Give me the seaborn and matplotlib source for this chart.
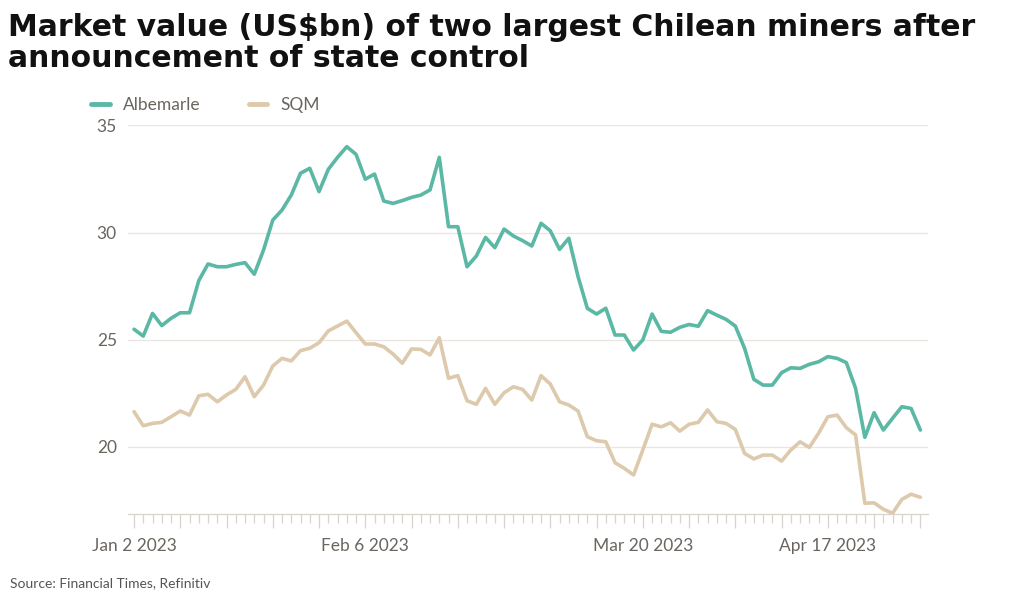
import numpy as np
import pandas as pd
import matplotlib
matplotlib.use("Agg")
import matplotlib.pyplot as plt
import seaborn as sns

# --- data: market value in US$bn, one value per trading day (Jan 2 - May 1 2023) ---
albemarle = [25.48, 25.16, 26.22, 25.65, 25.99, 26.25, 26.25, 27.75, 28.53, 28.40,
             28.40, 28.51, 28.59, 28.05, 29.18, 30.58, 31.05, 31.75, 32.77, 33.00,
             31.91, 32.95, 33.51, 34.01, 33.65, 32.49, 32.73, 31.47, 31.36, 31.49,
             31.64, 31.75, 31.99, 33.51, 30.27, 30.27, 28.40, 28.90, 29.77, 29.29,
             30.16, 29.84, 29.62, 29.37, 30.43, 30.08, 29.21, 29.73, 27.94, 26.46,
             26.19, 26.46, 25.21, 25.21, 24.51, 24.98, 26.19, 25.38, 25.34, 25.57,
             25.70, 25.62, 26.35, 26.14, 25.94, 25.63, 24.59, 23.14, 22.87, 22.87,
             23.45, 23.68, 23.65, 23.84, 23.96, 24.20, 24.12, 23.92, 22.72, 20.43,
             21.58, 20.77, 21.32, 21.86, 21.78, 20.77]
sqm = [21.63, 20.97, 21.08, 21.13, 21.39, 21.66, 21.47, 22.37, 22.44, 22.09,
       22.41, 22.67, 23.26, 22.33, 22.87, 23.76, 24.12, 24.00, 24.48, 24.59,
       24.85, 25.40, 25.63, 25.86, 25.32, 24.79, 24.79, 24.66, 24.32, 23.89,
       24.56, 24.54, 24.28, 25.08, 23.19, 23.31, 22.14, 21.97, 22.72, 21.97,
       22.51, 22.79, 22.67, 22.17, 23.31, 22.92, 22.09, 21.94, 21.66, 20.46,
       20.27, 20.22, 19.24, 18.98, 18.67, 19.84, 21.04, 20.92, 21.11, 20.72,
       21.04, 21.13, 21.71, 21.16, 21.08, 20.80, 19.68, 19.42, 19.60, 19.60,
       19.32, 19.84, 20.22, 19.96, 20.62, 21.39, 21.47, 20.88, 20.54, 17.35,
       17.37, 17.07, 16.88, 17.53, 17.77, 17.63]
dates = pd.bdate_range("2023-01-02", periods=len(albemarle))
label_dates = ["2023-01-02", "2023-02-06", "2023-03-20", "2023-04-17"]
y_ticks = [20, 25, 30, 35]

companies = ["Albemarle", "SQM"]
colors = {"Albemarle": "#5ab8a5", "SQM": "#ddc9ac"}

df = pd.DataFrame({
    "pos": np.tile(np.arange(len(dates)), 2),
    "date": np.tile(dates, 2),
    "company": np.repeat(companies, len(dates)),
    "value": albemarle + sqm,
})

# --- plotting ---
sns.set_style("white")
plt.rcParams["font.family"] = ["Lato", "DejaVu Sans"]

fig = plt.figure(figsize=(10.24, 5.99), dpi=100)
ax = fig.add_axes([0.125, 0.142, 0.781, 0.6485])

sns.lineplot(data=df, x="pos", y="value", hue="company", palette=colors,
             linewidth=2.6, ax=ax)

ax.set_xlim(-0.65, 85.8)
ax.set_ylim(16.85, 35)
ax.set_yticks(y_ticks)
ax.set_yticklabels([str(t) for t in y_ticks])
ax.grid(axis="y", color="#e9e5df", linewidth=0.9)
ax.set_axisbelow(True)

# weekly long ticks, daily short ticks, labels on four dates
major = list(range(0, len(dates), 5))
lab_pos = {int(np.where(dates == pd.Timestamp(d))[0][0]): d for d in label_dates}
ax.set_xticks(major)
ax.set_xticklabels([pd.Timestamp(lab_pos[p]).strftime("%b %-d %Y") if p in lab_pos else ""
                    for p in major])
ax.set_xticks(range(len(dates)), minor=True)
ax.tick_params(axis="x", which="both", bottom=True)
ax.tick_params(axis="x", which="major", length=10, width=0.9, color="#d9d4cc",
               pad=7, labelsize=12.5, labelcolor="#6b6560", direction="out")
ax.tick_params(axis="x", which="minor", length=6.5, width=0.9, color="#d9d4cc",
               direction="out")
ax.tick_params(axis="y", length=0, pad=8, labelsize=12.5, labelcolor="#6b6560")
ax.set_xlabel("")
ax.set_ylabel("")

for s in ["top", "right", "left"]:
    ax.spines[s].set_visible(False)
ax.spines["bottom"].set_color("#d9d4cc")
ax.spines["bottom"].set_linewidth(0.9)

sns.move_legend(ax, loc="center left", bbox_to_anchor=(0.074, 0.825),
                bbox_transform=fig.transFigure, ncol=2, title=None, frameon=False,
                handlelength=1.05, columnspacing=2.8, handletextpad=0.75,
                fontsize=12.5, labelcolor="#6b6560")
for line in ax.get_legend().get_lines():
    line.set_linewidth(3.5)

fig.text(0.008, 0.979, "Market value (US$bn) of two largest Chilean miners after\n"
         "announcement of state control", ha="left", va="top",
         fontsize=21.5, fontweight="bold", color="#111111", linespacing=1.1,
         family=["DejaVu Sans"])
fig.text(0.01, 0.016, "Source: Financial Times, Refinitiv", ha="left", va="bottom",
         fontsize=10, color="#555555")

fig.savefig("out.png", dpi=100)
